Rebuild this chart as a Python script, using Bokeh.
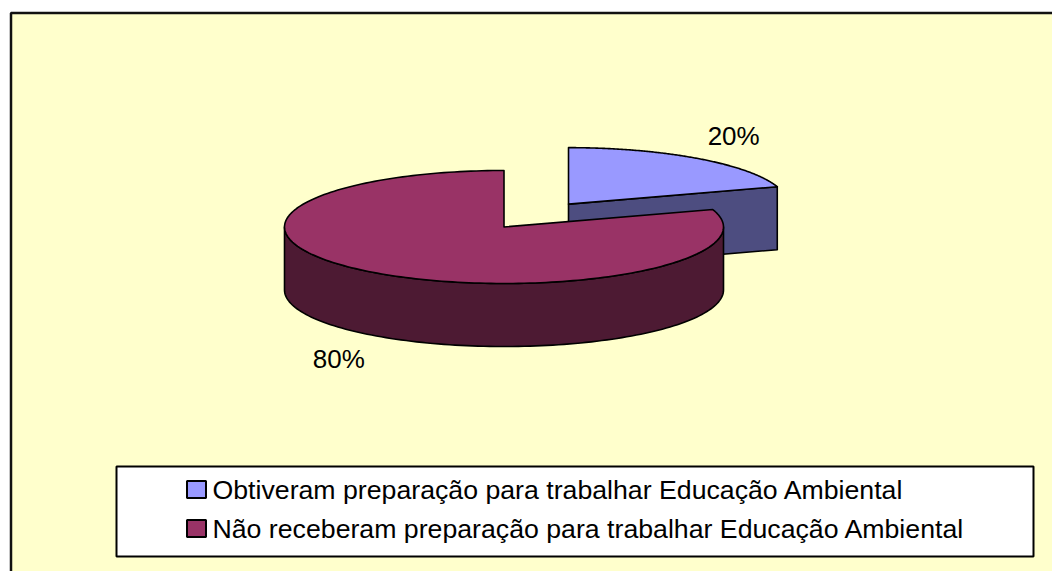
import numpy as np
from bokeh.plotting import figure
from bokeh.models import Range1d
from bokeh.core.properties import value
from bokeh.embed import file_html
from bokeh.resources import INLINE

# ---- data ----
categories = ["Obtiveram preparação para trabalhar Educação Ambiental",
              "Não receberam preparação para trabalhar Educação Ambiental"]
values = [20, 80]
pct_labels = ["20%", "80%"]
face_colors = ["#9999FF", "#993366"]
side_colors = ["#4D4D80", "#4D1A33"]
explode = [0.5, 0.0]

# ---- geometry (screen-pixel data space) ----
CX, CY = 503.5, 226.5      # pie centre
A, B = 219.5, 56.5         # ellipse semi-axes
DEPTH = 63                 # thickness
FONT = "Liberation Sans"

W, H = 1052, 571
p = figure(width=W, height=H, x_range=Range1d(0, W), y_range=Range1d(H, 0),
           output_backend="svg", toolbar_location=None, min_border=0)
p.axis.visible = False
p.grid.visible = False
p.outline_line_color = None
p.background_fill_color = "white"
p.border_fill_color = "white"

# chart area background + border (right/bottom beyond the window)
p.quad(left=[10.5], right=[1200], top=[12.5], bottom=[800],
       fill_color="#FFFFCC", line_color="#111111", line_width=2.5)


def ell(theta_deg, ox, oy, dz=0.0):
    t = np.radians(theta_deg)
    return ox + A * np.sin(t), oy - B * np.cos(t) + dz


total = float(sum(values))
fracs = [v / total for v in values]
starts = np.concatenate([[0.0], np.cumsum(fracs)[:-1]]) * 360.0
ends = np.cumsum(fracs) * 360.0

slices = []
for i in range(len(values)):
    mid = (starts[i] + ends[i]) / 2.0
    ox = CX + explode[i] * A * np.sin(np.radians(mid))
    oy = CY - explode[i] * B * np.cos(np.radians(mid))
    slices.append(dict(i=i, s=starts[i], e=ends[i], mid=mid, ox=ox, oy=oy))

# draw back-to-front
order = sorted(slices, key=lambda d: d["oy"] - B * np.cos(np.radians(d["mid"])))

for d in order:
    i, s, e, ox, oy = d["i"], d["s"], d["e"], d["ox"], d["oy"]
    xs_list, ys_list = [], []
    # radial faces
    for edge, normal in ((s, s - 90.0), (e, e + 90.0)):
        if np.cos(np.radians(normal)) < -1e-6:
            ex, ey = ell(edge, ox, oy)
            xs_list.append([ox, ex, ex, ox])
            ys_list.append([oy, ey, ey + DEPTH, oy + DEPTH])
    # outer cylinder (front half only)
    a0, a1 = max(s, 90.0), min(e, 270.0)
    if a1 > a0:
        th = np.linspace(a0, a1, 120)
        tx, ty = ell(th, ox, oy)
        bx, by = ell(th[::-1], ox, oy, DEPTH)
        xs_list.append(list(tx) + list(bx))
        ys_list.append(list(ty) + list(by))
    if xs_list:
        p.patches(xs_list, ys_list, fill_color=side_colors[i], line_color="black",
                  line_width=1.6, line_join="round")
    # top face
    th = np.linspace(s, e, 200)
    tx, ty = ell(th, ox, oy)
    p.patch([ox] + list(tx), [oy] + list(ty), fill_color=face_colors[i],
            line_color="black", line_width=1.6, line_join="round")

# percentage labels
lx, ly = [], []
for d in slices:
    t = np.radians(d["mid"])
    x = d["ox"] + 1.28 * A * np.sin(t)
    y = d["oy"] - 1.5 * B * np.cos(t)
    if np.cos(t) < 0:
        y += DEPTH
    lx.append(x)
    ly.append(y)
p.text(x=lx, y=ly, text=pct_labels, text_font=value(FONT), text_font_size="26px",
       text_align="center", text_baseline="middle", text_color="black")

# legend
p.quad(left=[116], right=[1033], top=[466], bottom=[556],
       fill_color="white", line_color="black", line_width=2)
leg_y = [489, 528]
p.rect(x=[196] * len(categories), y=leg_y, width=19, height=17,
       fill_color=face_colors, line_color="black", line_width=2)
p.text(x=[212] * len(categories), y=leg_y, text=categories, text_font=value(FONT),
       text_font_size="26.7px", text_align="left", text_baseline="middle",
       text_color="black")

open("out.html", "w").write(file_html(p, INLINE))
